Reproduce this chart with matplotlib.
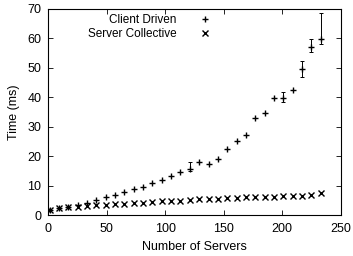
import matplotlib
matplotlib.use("Agg")
import matplotlib.pyplot as plt
import numpy as np

plt.rcParams['font.family'] = ['Liberation Sans', 'DejaVu Sans']

# number of servers (one sample every 8 servers)
servers = np.arange(1, 234, 8)

# client driven mean time (ms)
client = [1.7, 2.3, 2.7, 3.3, 4.2, 5.2, 6.1, 6.9, 7.8, 8.8,
          9.5, 10.8, 11.9, 13.1, 14.5, 15.5, 17.9, 17.3, 19.1, 22.3,
          25.3, 27.2, 33.0, 34.6, 39.6, 39.8, 42.5, 49.5, 57.2, 59.9]
# error bar bounds (low, high) for client driven, same as mean where no bar shows
client_lo = list(client)
client_hi = list(client)
client_lo[15], client_hi[15] = 15.0, 18.1
client_lo[25], client_hi[25] = 38.5, 41.9
client_lo[27], client_hi[27] = 46.8, 52.4
client_lo[28], client_hi[28] = 55.3, 59.9
client_lo[29], client_hi[29] = 58.1, 68.7

# server collective time (ms)
collective = [1.7, 2.3, 2.7, 2.8, 3.2, 3.4, 3.4, 3.6, 3.8, 4.1,
              4.2, 4.3, 4.8, 4.8, 4.9, 5.0, 5.3, 5.4, 5.5, 5.7,
              5.9, 6.0, 6.1, 6.0, 6.2, 6.3, 6.6, 6.6, 6.8, 7.4]

fig, ax = plt.subplots(figsize=(3.53, 2.56), dpi=100)
fig.subplots_adjust(left=0.137, right=0.965, top=0.965, bottom=0.16)

client = np.array(client)
lo = np.array(client_lo)
hi = np.array(client_hi)
has_err = (hi - lo) > 0
ax.errorbar(servers[has_err], client[has_err],
            yerr=[client[has_err] - lo[has_err], hi[has_err] - client[has_err]],
            fmt='none', ecolor='black', elinewidth=0.7, capsize=1.6, capthick=0.7)
ax.plot(servers, client, '+', color='black', markersize=4.5, mew=1.0, label='Client Driven')
ax.plot(servers, collective, 'x', color='black', markersize=3.8, mew=1.0, label='Server Collective')

ax.set_xlim(0, 250)
ax.set_ylim(0, 70)
ax.set_xticks(np.arange(0, 251, 50))
ax.set_yticks(np.arange(0, 71, 10))
ax.tick_params(direction='in', top=True, right=True, length=3.5, width=0.6, labelsize=9)
ax.tick_params(axis='x', pad=6)
ax.tick_params(axis='y', pad=5)
for s in ax.spines.values():
    s.set_linewidth(0.8)

ax.set_xlabel("Number of Servers", fontsize=9, labelpad=4)
ax.set_ylabel("Time (ms)", fontsize=9, labelpad=5)

ax.legend(loc='upper right', bbox_to_anchor=(0.62, 1.02), markerfirst=False, frameon=False,
          fontsize=8.5, handlelength=2.5, handletextpad=1.2, labelspacing=0.15, borderpad=0.3)

plt.savefig("out.png", dpi=100)
